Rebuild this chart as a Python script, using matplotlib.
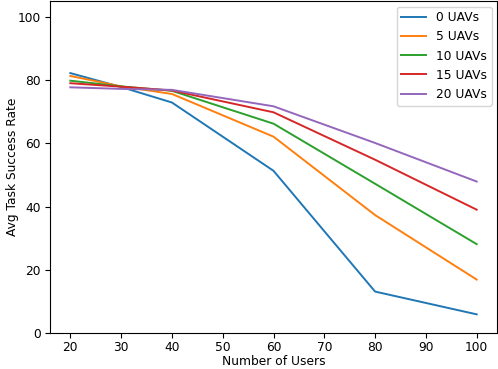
import matplotlib
matplotlib.use("Agg")
import matplotlib.pyplot as plt

users = [20, 30, 40, 60, 80, 100]
labels = ["0 UAVs", "5 UAVs", "10 UAVs", "15 UAVs", "20 UAVs"]
uav0 = [82.2, 77.8, 72.9, 51.3, 13.1, 5.9]
uav5 = [81.3, 78.0, 75.6, 62.1, 37.3, 16.9]
uav10 = [79.8, 78.0, 76.6, 66.2, 47.2, 28.1]
uav15 = [79.0, 77.9, 76.7, 69.8, 54.8, 39.0]
uav20 = [77.7, 77.2, 76.9, 71.7, 60.1, 47.9]
series = [uav0, uav5, uav10, uav15, uav20]

plt.rcParams["font.size"] = 8.8

fig = plt.figure(figsize=(4.98, 3.69), dpi=100)
ax = fig.add_axes([50/498, 36/369, 447/498, 332/369])
for lab, vals in zip(labels, series):
    ax.plot(users, vals, label=lab, linewidth=1.4)
ax.set_ylim(0, 105)
ax.set_xlim(16, 104)
ax.set_xticks([20, 30, 40, 50, 60, 70, 80, 90, 100])
ax.set_yticks([0, 20, 40, 60, 80, 100])
ax.tick_params(axis="y", pad=3)
ax.tick_params(axis="x", pad=2.5)
ax.set_xlabel("Number of Users", labelpad=0.5)
ax.set_ylabel("Avg Task Success Rate", labelpad=-1)
ax.legend(loc="upper right", borderaxespad=0.45)
fig.savefig("out.png", dpi=100)
